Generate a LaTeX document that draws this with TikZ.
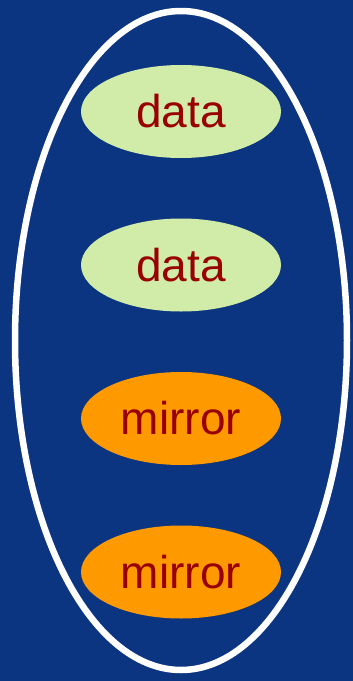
\documentclass[tikz,border=0pt]{standalone}
\usepackage{fontspec}
\setmainfont{Liberation Sans}
\usetikzlibrary{shapes.geometric}
\definecolor{bgblue}{HTML}{0B3580}
\definecolor{datagreen}{HTML}{D1EBA8}
\definecolor{mirrororange}{HTML}{FF9900}
\definecolor{labelred}{HTML}{990000}
\tikzset{
  x=1pt, y=1pt,
  disk/.style={ellipse, inner sep=0pt, minimum width=200pt, minimum height=93pt,
    text=labelred, font=\fontsize{46}{55}\selectfont},
  datadisk/.style={disk, fill=datagreen},
  mirrordisk/.style={disk, fill=mirrororange},
  group/.style={ellipse, draw=white, line width=6.5pt, inner sep=0pt,
    minimum width=332pt, minimum height=659pt}
}
\begin{document}
\begin{tikzpicture}
  \fill[bgblue] (0,0) rectangle (353,-681);
  \useasboundingbox (0,0) rectangle (353,-681);
  \node[group] (set) at (181,-340.5) {};
  \node[datadisk] (d1) at (181,-111.5) {data};
  \node[datadisk] (d2) at (181,-265) {data};
  \node[mirrordisk] (m1) at (181,-418.5) {mirror};
  \node[mirrordisk] (m2) at (181,-572) {mirror};
\end{tikzpicture}
\end{document}
